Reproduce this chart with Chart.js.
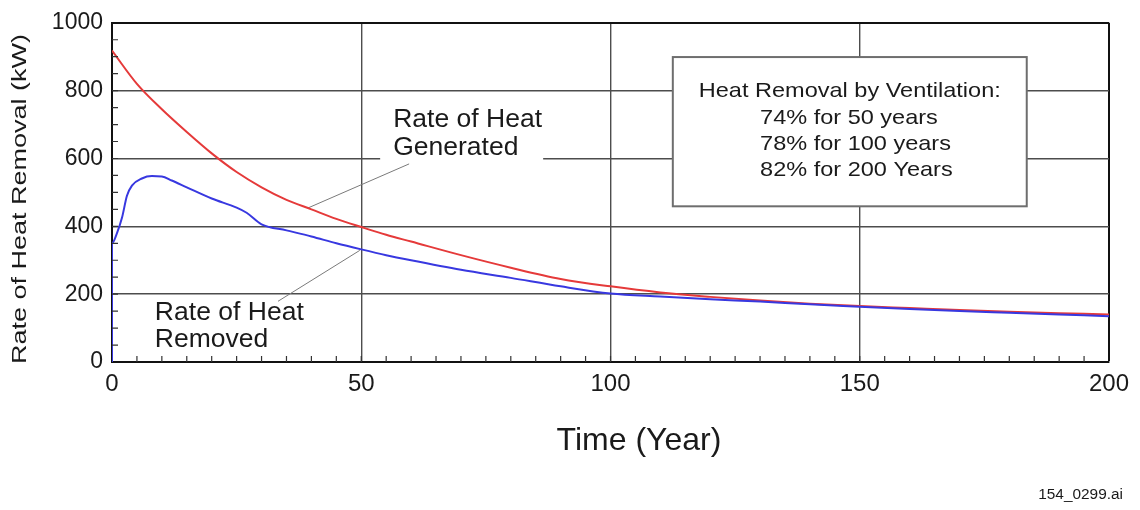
<!DOCTYPE html>
<html>
<head>
<meta charset="utf-8">
<script src="https://cdn.jsdelivr.net/npm/chart.js@4.4.1/dist/chart.umd.min.js"></script>
<style>
  html, body { margin: 0; padding: 0; background: #fff; }
  #wrap { width: 1140px; height: 510px; }
</style>
</head>
<body>
<div id="wrap"><canvas id="heatChart"></canvas></div>
<script>
// data
const genYears = [0, 5, 10, 15, 20, 25, 30, 35, 40, 45, 50, 55, 60, 70, 80, 90, 100, 110, 120, 130, 140, 150, 160, 170, 180, 190, 200];
const genRate  = [918, 820, 745, 678, 615, 560, 515, 478, 450, 422, 398, 375, 355, 315, 278, 245, 223, 205, 192, 181, 172, 165, 159, 153, 148, 144, 140];
const remYears = [0, 0, 1, 2, 3, 4, 6, 8, 10, 12, 15, 20, 25, 27, 30, 35, 40, 45, 50, 55, 60, 70, 80, 90, 100, 110, 120, 130, 140, 150, 160, 170, 180, 190, 200];
const remRate  = [0, 350, 380, 425, 490, 520, 541, 548, 547, 535, 515, 482, 455, 440, 406, 388, 370, 350, 332, 315, 300, 272, 248, 223, 202, 193, 185, 178, 170, 163, 156, 150, 145, 140, 135];
const xTicks = [0, 50, 100, 150, 200];
const yTicks = [0, 200, 400, 600, 800, 1000];
const noteTitle = 'Heat Removal by Ventilation:';
const noteLines = ['74% for 50 years', '78% for 100 years', '82% for 200 Years'];
const genLabel = ['Rate of Heat', 'Generated'];
const remLabel = ['Rate of Heat', 'Removed'];

const FONT = "'Liberation Sans', Arial, Helvetica, sans-serif";
const INK = '#1a1a1a';

function toPts(xs, ys) {
  return xs.map((x, i) => ({ x: x, y: ys[i] }));
}

// text drawn a little wide like the scanned figure
function wideText(ctx, str, x, y, size, sx, align, rot) {
  ctx.save();
  ctx.translate(x, y);
  if (rot) ctx.rotate(rot);
  ctx.scale(sx, 1);
  ctx.font = size + 'px ' + FONT;
  ctx.textAlign = align;
  ctx.textBaseline = 'middle';
  ctx.fillStyle = INK;
  ctx.fillText(str, 0, 0);
  ctx.restore();
}

const decorations = {
  id: 'decorations',
  beforeDatasetsDraw(chart) {
    const { ctx, scales: { x, y } } = chart;

    // ventilation note box
    const bx0 = x.getPixelForValue(112.5), bx1 = x.getPixelForValue(183.5);
    const by0 = y.getPixelForValue(899), by1 = y.getPixelForValue(459);
    ctx.save();
    ctx.fillStyle = '#fff';
    ctx.fillRect(bx0, by0, bx1 - bx0, by1 - by0);
    ctx.strokeStyle = '#6e6e6e';
    ctx.lineWidth = 2;
    ctx.strokeRect(bx0, by0, bx1 - bx0, by1 - by0);
    ctx.restore();
    wideText(ctx, noteTitle, x.getPixelForValue(148), y.getPixelForValue(798), 21, 1.12, 'center');
    const lineVals = [720, 642, 564];
    noteLines.forEach((t, i) => {
      wideText(ctx, t, x.getPixelForValue(130), y.getPixelForValue(lineVals[i]), 21, 1.12, 'left');
    });

    // "Generated" label sits on a white patch over the grid
    const gx = x.getPixelForValue(56.4);
    const gy1 = y.getPixelForValue(714), gy2 = y.getPixelForValue(630);
    ctx.save();
    ctx.fillStyle = '#fff';
    ctx.fillRect(gx - 13, gy1 - 16, 163, gy2 - gy1 + 32);
    ctx.restore();
    wideText(ctx, genLabel[0], gx, gy1, 26, 1.02, 'left');
    wideText(ctx, genLabel[1], gx, gy2, 26, 1.02, 'left');

    const rx = x.getPixelForValue(8.6);
    wideText(ctx, remLabel[0], rx, y.getPixelForValue(144), 26, 1.02, 'left');
    wideText(ctx, remLabel[1], rx, y.getPixelForValue(64), 26, 1.02, 'left');

    // leader lines
    ctx.save();
    ctx.strokeStyle = '#7a7a7a';
    ctx.lineWidth = 1;
    ctx.beginPath();
    ctx.moveTo(x.getPixelForValue(59.6), y.getPixelForValue(584));
    ctx.lineTo(x.getPixelForValue(39.3), y.getPixelForValue(454));
    ctx.moveTo(x.getPixelForValue(33.3), y.getPixelForValue(179));
    ctx.lineTo(x.getPixelForValue(49.7), y.getPixelForValue(329));
    ctx.stroke();
    ctx.restore();
  },
  afterDraw(chart) {
    const { ctx, chartArea: a, scales: { x, y } } = chart;
    // minor ticks pointing inwards
    ctx.save();
    ctx.strokeStyle = '#333';
    ctx.lineWidth = 1.2;
    ctx.beginPath();
    for (let v = 5; v < 200; v += 5) {
      const px = x.getPixelForValue(v);
      ctx.moveTo(px, a.bottom);
      ctx.lineTo(px, a.bottom - 6);
    }
    for (let v = 50; v < 1000; v += 50) {
      const py = y.getPixelForValue(v);
      ctx.moveTo(a.left, py);
      ctx.lineTo(a.left + 6, py);
    }
    ctx.stroke();
    ctx.restore();

    // axis titles and file tag
    wideText(ctx, 'Rate of Heat Removal (kW)', 20, 199, 20, 1.35, 'center', -Math.PI / 2);
    wideText(ctx, 'Time (Year)', 639, 441, 32, 1.0, 'center');
    wideText(ctx, '154_0299.ai', 1123, 495, 14, 1.1, 'right');
  }
};

new Chart(document.getElementById('heatChart'), {
  type: 'line',
  data: {
    datasets: [
      {
        label: 'Rate of Heat Removed',
        data: toPts(remYears, remRate),
        borderColor: '#3838e0',
        borderWidth: 2,
        pointRadius: 0,
        cubicInterpolationMode: 'monotone'
      },
      {
        label: 'Rate of Heat Generated',
        data: toPts(genYears, genRate),
        borderColor: '#e53a3a',
        borderWidth: 2,
        pointRadius: 0,
        cubicInterpolationMode: 'monotone'
      }
    ]
  },
  options: {
    responsive: true,
    maintainAspectRatio: false,
    animation: false,
    layout: { padding: { left: 0, top: 16, right: 31, bottom: 0 } },
    plugins: {
      legend: { display: false },
      tooltip: { enabled: false }
    },
    scales: {
      x: {
        type: 'linear',
        min: 0,
        max: 200,
        afterBuildTicks: s => { s.ticks = xTicks.map(v => ({ value: v })); },
        afterFit: s => { s.height = 148; },
        ticks: { color: INK, padding: 8, font: { family: FONT, size: 24 }, callback: v => String(v) },
        grid: {
          drawTicks: false,
          color: c => (c.tick && c.tick.value === 200 ? '#111' : '#4d4d4d'),
          lineWidth: c => (c.tick && c.tick.value === 200 ? 2 : 1.4)
        },
        border: { color: '#111', width: 2 }
      },
      y: {
        min: 0,
        max: 1000,
        afterBuildTicks: s => { s.ticks = yTicks.map(v => ({ value: v })); },
        afterFit: s => { s.width = 112; },
        ticks: { color: INK, padding: 9, font: { family: FONT, size: 23 }, callback: v => String(v) },
        grid: {
          drawTicks: false,
          color: c => (c.tick && c.tick.value === 1000 ? '#111' : '#4d4d4d'),
          lineWidth: c => (c.tick && c.tick.value === 1000 ? 2 : 1.4)
        },
        border: { color: '#111', width: 2 }
      }
    }
  },
  plugins: [decorations]
});
</script>
</body>
</html>
